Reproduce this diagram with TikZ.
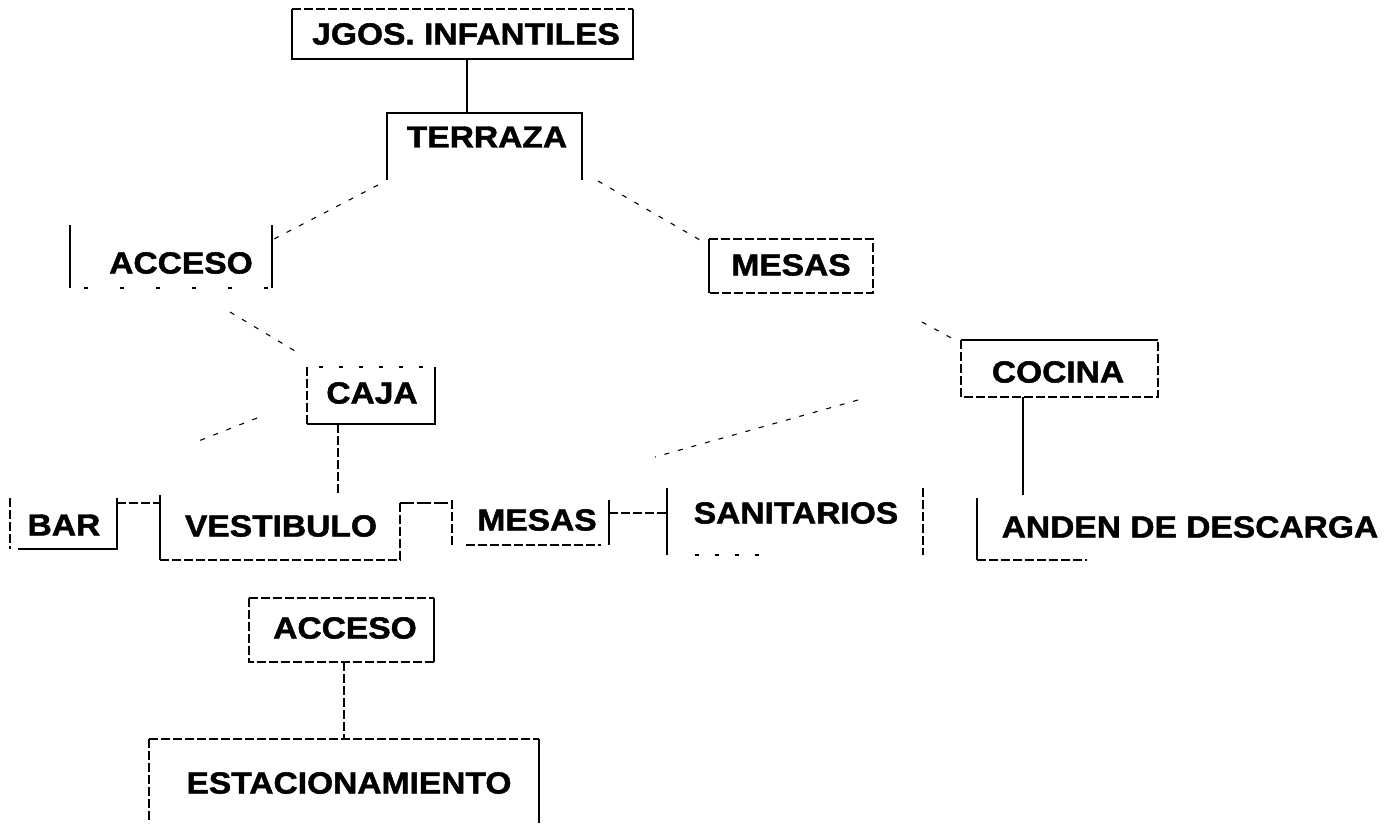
\documentclass[tikz,border=0pt]{standalone}
\usepackage{fontspec}
\newfontfamily\lblfont{Liberation Sans}[FakeStretch=1.1,FakeBold=1.5]
\begin{document}
\begin{tikzpicture}[x=1pt,y=-1pt,
  lbl/.style={font=\lblfont\bfseries\fontsize{30.5}{36}\selectfont, inner sep=0pt},
  box/.style={rectangle, inner sep=0pt, outer sep=0pt, draw=none},
  sline/.style={line width=1.3pt, black},
  dline/.style={line width=1.2pt, black, dash pattern=on 9pt off 3pt},
  fline/.style={line width=1.1pt, black, dash pattern=on 4pt off 16pt},
  sparse/.style={line width=1.1pt, black, dash pattern=on 4pt off 32pt},
  link/.style={line width=1.1pt, black, dash pattern=on 5pt off 9pt}]
\useasboundingbox (0,0) rectangle (1390,823);
\fill[white] (0,0) rectangle (1390,823);

% ---- boxes (invisible frames) ----
\node[box, minimum width=341pt, minimum height=50pt] (jgos) at (462.5,34) {};
\node[box, minimum width=195pt, minimum height=67pt] (terr) at (484.5,146.5) {};
\node[box, minimum width=202pt, minimum height=63pt] (acc1) at (171,256.5) {};
\node[box, minimum width=164pt, minimum height=54pt] (mes1) at (791,266) {};
\node[box, minimum width=128pt, minimum height=57pt] (caja) at (371,395.5) {};
\node[box, minimum width=197pt, minimum height=57pt] (coc) at (1059.5,368.5) {};
\node[box, minimum width=107pt, minimum height=51pt] (bar) at (63.5,523.5) {};
\node[box, minimum width=240pt, minimum height=65pt] (vest) at (280,527.5) {};
\node[box, minimum width=157pt, minimum height=45pt] (mes2) at (530.5,522.5) {};
\node[box, minimum width=256pt, minimum height=67pt] (san) at (795,521.5) {};
\node[box, minimum width=412pt, minimum height=62pt] (and) at (1183,529) {};
\node[box, minimum width=185pt, minimum height=64pt] (acc2) at (341.5,630) {};
\node[box, minimum width=390pt, minimum height=84pt] (est) at (344,781) {};

% ---- texts ----
\node[lbl] (jgosT) at (466,34) {JGOS. INFANTILES};
\node[lbl] (terrT) at (487,137) {TERRAZA};
\node[lbl] (acc1T) at (181,263) {ACCESO};
\node[lbl] (mes1T) at (791,265) {MESAS};
\node[lbl] (cajaT) at (372,393) {CAJA};
\node[lbl] (cocT) at (1058,372) {COCINA};
\node[lbl] (barT) at (64,525) {BAR};
\node[lbl] (vestT) at (281,526) {VESTIBULO};
\node[lbl] (mes2T) at (537,520) {MESAS};
\node[lbl] (sanT) at (796,513) {SANITARIOS};
\node[lbl] (andT) at (1190,527) {ANDEN DE DESCARGA};
\node[lbl] (acc2T) at (345,628) {ACCESO};
\node[lbl] (estT) at (349,783) {ESTACIONAMIENTO};

% ---- box edges ----
\draw[sline] (jgos.north west) -- (jgos.south west) -- (jgos.south east) -- (jgos.north east);
\draw[dline] (jgos.north west) -- (jgos.north east);
\draw[sline] (terr.south west) -- (terr.north west) -- (terr.north east) -- (terr.south east);
\draw[sline] (acc1.north west) -- (acc1.south west);
\draw[sline] (acc1.north east) -- (acc1.south east);
\draw[sparse] ([xshift=14pt]acc1.south west) -- (acc1.south east);
\draw[sline] (mes1.north west) -- (mes1.south west);
\draw[dline] (mes1.north west) -- (mes1.north east) -- (mes1.south east) -- (mes1.south west);
\draw[dline] (caja.south west) -- (caja.north west);
\draw[fline] ([xshift=12pt]caja.north west) -- (caja.north east);
\draw[sline] (caja.north east) -- (caja.south east) -- (caja.south west);
\draw[sline] (coc.north west) -- (coc.north east);
\draw[dline] (coc.north west) -- (coc.south west) -- (coc.south east) -- (coc.north east);
\draw[dline] (bar.north west) -- (bar.south west);
\draw[sline] (bar.north east) -- (bar.south east) -- ([xshift=8pt]bar.south west);
\draw[sline] (vest.north west) -- (vest.south west);
\draw[dline] (vest.south west) -- (vest.south east) -- ([yshift=-8pt]vest.north east);
\draw[dline] (mes2.north west) -- (mes2.south west);
\draw[sline] (mes2.north east) -- (mes2.south east);
\draw[dline] ([xshift=14pt]mes2.south west) -- ([xshift=-8pt]mes2.south east);
\draw[sline] (san.north west) -- (san.south west);
\draw[dline] (san.north east) -- (san.south east);
\draw[fline] ([xshift=28pt]san.south west) -- ([xshift=106pt]san.south west);
\draw[sline] (and.north west) -- (and.south west);
\draw[dline] (and.south west) -- ([xshift=110pt]and.south west);
\draw[dline] (acc2.north west) -- (acc2.north east);
\draw[dline] (acc2.north west) -- (acc2.south west) -- (acc2.south east);
\draw[sline] (acc2.north east) -- (acc2.south east);
\draw[dline] (est.north west) -- (est.north east);
\draw[dline] (est.north west) -- (est.south west);
\draw[sline] (est.north east) -- (est.south east);

% ---- connector end points ----
\coordinate (tL) at (378,185);
\coordinate (aR) at (274,239);
\coordinate (tR) at (598,181);
\coordinate (mL) at (700,240);
\coordinate (aB) at (230,312);
\coordinate (cT) at (300,354);
\coordinate (cL) at (257,418);
\coordinate (bR) at (196,442);
\coordinate (mB) at (922,322);
\coordinate (kT) at (955,340);
\coordinate (kL) at (858,400);
\coordinate (m2T) at (655,457);

% ---- connectors ----
\draw[sline] ([xshift=4.5pt]jgos.south) -- ([xshift=4.5pt]jgos.south |- terr.north);
\draw[link] (tL) -- (aR);
\draw[link] (tR) -- (mL);
\draw[link] (aB) -- (cT);
\draw[link] (cL) -- (bR);
\draw[link] (mB) -- (kT);
\draw[link] (kL) -- (m2T);
\draw[dline] ([xshift=-33pt]caja.south) -- ([xshift=-33pt,yshift=2pt]caja.south |- vest.north);
\draw[dline] ([yshift=20.5pt]bar.east) -- ([yshift=20.5pt]bar.east -| vest.west);
\draw[sline, dash pattern=on 14pt off 3pt] ([yshift=24.5pt]vest.east) -- ([yshift=24.5pt]vest.east -| mes2.west);
\draw[dline] ([yshift=9.5pt]mes2.east) -- ([yshift=9.5pt]mes2.east -| san.west);
\draw[sline] ([xshift=-36.5pt]coc.south) -- ([xshift=-36.5pt,yshift=3pt]coc.south |- and.north);
\draw[dline] ([xshift=2.5pt]acc2.south) -- ([xshift=2.5pt]acc2.south |- est.north);
\end{tikzpicture}
\end{document}
